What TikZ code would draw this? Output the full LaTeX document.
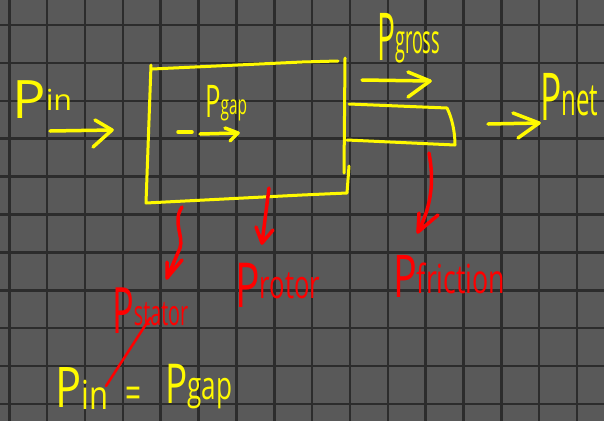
\documentclass[tikz,border=0pt]{standalone}
\usepackage{fontspec}
\setmainfont{Open Sans}
\usepackage{graphicx}
\definecolor{bg}{RGB}{89,89,89}
\definecolor{gridc}{RGB}{44,44,44}
\definecolor{yel}{RGB}{255,250,0}
\definecolor{redc}{RGB}{255,0,0}
\newcommand\hw[5]{\resizebox{#4pt}{\height}{\fontsize{#1}{#1}\selectfont P\raisebox{#3pt}{\fontsize{#2}{#2}\selectfont #5}}}
\tikzset{
  ylab/.style={anchor=base west, inner sep=0pt, text=yel},
  rlab/.style={anchor=base west, inner sep=0pt, text=redc},
  ystroke/.style={draw=yel, line width=3.5pt, line cap=round, line join=round},
  rstroke/.style={draw=redc, line width=3.5pt, line cap=round, line join=round},
  boxline/.style={draw=yel, line width=3pt, line cap=round, line join=round},
}
\begin{document}
\begin{tikzpicture}[x=1pt,y=-1pt]
\fill[bg] (0,0) rectangle (604,421);
\useasboundingbox (0,0) rectangle (604,421);
\foreach \k in {0,...,15} {\draw[gridc, line width=2.5pt] ({9.3+37.85*\k},0) -- ({9.3+37.85*\k},421);}
\foreach \k in {0,...,10} {\draw[gridc, line width=2.5pt] (0,{25+37.9*\k}) -- (604,{25+37.9*\k});}

% stator/rotor box
\draw[boxline] (151,65) -- (146,203) -- (302,195) -- (347,193) -- (349,166);
\draw[boxline] (152,69) -- (302,62) -- (338,61);
\draw[boxline] (345,58) -- (344,173);
% shaft
\draw[boxline] (349,104) -- (447,108) .. controls (452,118) and (455,132) .. (455,145) -- (347,140);

% labels
\node[ylab] (pin) at (12,118) {\hw{53}{29}{8}{60}{in}};
\node[ylab] (pgap) at (205,117) {\hw{45}{27}{3}{42}{gap}};
\node[ylab] (pgross) at (377,60) {\hw{66}{40}{7}{63}{gross}};
\node[ylab] (pnet) at (540,120) {\hw{66}{45}{5}{58}{net}};
\node[rlab] (pstator) at (112,333) {\hw{64}{35}{8}{76}{stator}};
\node[rlab] (protor) at (235,307) {\hw{62}{39}{9}{85}{rotor}};
\node[rlab] (pfric) at (393,297) {\hw{59}{40}{4}{112}{friction}};
\node[ylab] (pin2) at (55,407) {\hw{56}{40}{-2}{53}{in}};
\node[inner sep=0pt, text=yel] (eq) at (133,398) {\resizebox{16pt}{\height}{\fontsize{44}{44}\selectfont =}};
\node[ylab] (pgap2) at (165,403) {\hw{55}{39}{4}{67}{gap}};

% arrow points
\coordinate (a1s) at (50,131); \coordinate (a1t) at (112,130);
\coordinate (a1b) at (95,120); \coordinate (a1c) at (93,147);
\coordinate (d1) at (178,132); \coordinate (d2) at (192,132);
\coordinate (a2s) at (200,134); \coordinate (a2t) at (238,133);
\coordinate (a2b) at (225,128); \coordinate (a2c) at (230,141);
\coordinate (a3s) at (362,80); \coordinate (a3t) at (430,81);
\coordinate (a3b) at (408,72); \coordinate (a3c) at (408,97);
\coordinate (a4s) at (488,124); \coordinate (a4t) at (539,123);
\coordinate (a4b) at (513,113); \coordinate (a4c) at (518,138);

\draw[ystroke] (a1s) -- (a1t); \draw[ystroke] (a1b) -- (a1t) -- (a1c);
\draw[ystroke] (d1) -- (d2);
\draw[ystroke] (a2s) -- (a2t); \draw[ystroke] (a2b) -- (a2t) -- (a2c);
\draw[ystroke] (a3s) -- (a3t); \draw[ystroke] (a3b) -- (a3t) -- (a3c);
\draw[ystroke] (a4s) -- (a4t); \draw[ystroke] (a4b) -- (a4t) -- (a4c);

% red loss arrows
\coordinate (s0) at (182,207); \coordinate (st) at (167,278);
\coordinate (sb) at (167,262); \coordinate (sc) at (182,260);
\draw[rstroke] (s0) .. controls (172,222) and (184,236) .. (180,248) -- (st);
\draw[rstroke] (sb) -- (st) -- (sc);
\coordinate (r0) at (269,188); \coordinate (rt) at (262,243);
\coordinate (rb) at (256,227); \coordinate (rc) at (273,230);
\draw[rstroke] (r0) -- (rt); \draw[rstroke] (rb) -- (rt) -- (rc);
\coordinate (f0) at (429,153); \coordinate (ft) at (418,232);
\coordinate (fb) at (419,213); \coordinate (fc) at (438,215);
\draw[rstroke] (f0) .. controls (434,180) and (432,205) .. (ft);
\draw[rstroke] (fb) -- (ft) -- (fc);
% pointer line
\coordinate (l0) at (106,386); \coordinate (l1) at (150,318);
\draw[redc, line width=2.5pt, line cap=round] (l0) -- (l1);
\end{tikzpicture}
\end{document}
